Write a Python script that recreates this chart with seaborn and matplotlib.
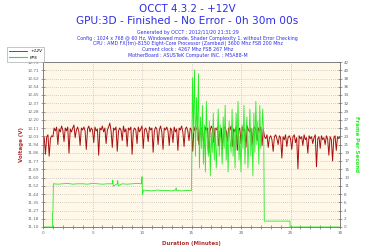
import numpy as np
import pandas as pd
import matplotlib
matplotlib.use("Agg")
import matplotlib.pyplot as plt
from matplotlib.lines import Line2D
import seaborn as sns

# ---------------- data ----------------
title_1 = "OCCT 4.3.2 - +12V"
title_2 = "GPU:3D - Finished - No Error - 0h 30m 00s"
info_lines = [
    "Generated by OCCT : 2012/11/20 21:31:29",
    "Config : 1024 x 768 @ 60 Hz, Windowed mode, Shader Complexity 1, without Error Checking",
    "CPU : AMD FX(tm)-8150 Eight-Core Processor (Zambezi) 3600 Mhz FSB 200 Mhz",
    "Current clock : 4267 Mhz FSB 267 Mhz",
    "MotherBoard : ASUSTeK Computer INC. : M5A88-M",
]

# voltage samples every 0.125 minute (0 .. 30)
volt_t = np.linspace(0, 30, 241)
volt_start = [12.04, 12.02, 11.85, 12.03, 12.05, 11.83, 12.01, 12.04, 12.03]
volt_mid = [
    12.12, 12.09, 12.13, 11.95, 12.11, 12.08, 12.14, 12.10, 11.98, 12.12,
    12.09, 12.13, 11.86, 12.11, 12.08, 12.12, 12.15, 12.02, 12.10, 12.13,
    12.08, 11.94, 12.12, 12.10, 12.13, 12.09, 11.90, 12.11, 12.14, 12.08,
    12.12, 12.10, 11.97, 12.13, 12.09, 12.11, 11.84, 12.12, 12.10, 12.14,
    12.08, 12.12, 11.96, 12.10, 12.13, 12.17, 12.09, 11.92, 12.12, 12.10,
    12.13, 11.88, 12.09, 12.12, 12.10, 11.99, 12.14, 12.08, 12.11, 11.93,
    12.12, 12.10, 12.13, 11.85, 12.09, 12.12, 12.10, 11.96, 12.13, 12.08,
    12.11, 12.14, 11.91, 12.10, 12.12, 12.08, 11.98, 12.13, 12.10, 12.12,
    11.87, 12.09, 12.13, 12.11, 11.95, 12.10, 12.14, 12.08, 11.90, 12.12,
    12.10, 12.13, 12.09, 11.94, 12.12, 12.10, 11.97, 12.13, 12.08, 12.11,
    11.89, 12.12, 12.10, 12.14, 12.08, 11.93, 12.11, 12.13, 12.09, 11.99,
    12.12, 12.10, 11.88, 12.13, 12.09, 12.11, 12.14, 11.95, 12.10, 12.12,
    12.08, 11.92, 12.13, 12.10, 12.12, 11.86, 12.09, 12.14, 12.11, 11.97,
    12.12, 12.10, 12.13, 11.94, 12.08, 12.12, 11.90, 12.11, 12.13, 12.09,
    11.98, 12.12, 12.10, 12.14, 11.93, 12.11, 12.08, 12.13, 11.89, 12.10,
    12.12, 11.96, 12.13, 12.09, 12.11, 11.92, 12.14, 12.10, 12.08, 12.12,
    11.95, 12.11, 12.13, 12.10, 11.99, 12.12, 12.09, 12.13, 11.94, 12.11,
]
volt_end = [
    12.03, 12.01, 12.05, 11.92, 12.02, 12.04, 12.00, 11.88, 12.03, 12.05,
    12.01, 11.95, 12.04, 12.02, 11.81, 12.03, 12.00, 12.05, 11.93, 12.02,
    12.04, 12.01, 11.90, 12.03, 12.05, 11.97, 12.02, 11.70, 12.04, 12.01,
    12.03, 11.94, 12.05, 12.00, 12.02, 11.86, 12.04, 12.01, 12.03, 11.96,
    12.02, 12.05, 11.72, 12.01, 12.03, 11.91, 12.04, 12.00, 12.02, 11.95,
    12.04, 12.01, 11.84, 12.03, 12.00, 11.78, 12.02, 12.04, 11.89, 12.03,
    12.01, 12.03,
]
volt_v = volt_start + volt_mid + volt_end

# FPS
fps_t_start = [0.0, 0.95, 0.95, 1.0, 1.05, 1.5, 2.0, 2.5, 3.0, 3.5, 4.0, 4.5,
               5.0, 5.5, 6.0, 6.5, 7.0, 7.05, 7.1, 7.5, 7.55, 7.6, 8.0, 8.5,
               9.0, 9.5, 9.95, 10.0, 10.05, 10.15, 10.5, 11.0, 11.5, 12.0,
               12.5, 13.0, 13.4, 13.45, 13.5, 14.0, 14.5, 15.0]
fps_v_start = [0.0, 0.0, 3.5, 3.5, 11.0, 10.9, 11.0, 11.1, 10.9, 11.0, 11.0,
               10.9, 11.1, 11.0, 10.9, 11.0, 11.0, 11.9, 10.4, 11.0, 11.8,
               10.5, 11.0, 10.9, 11.0, 11.1, 11.0, 12.8, 8.2, 9.4, 9.3, 9.2,
               9.4, 9.3, 9.3, 9.2, 9.4, 10.0, 9.3, 9.2, 9.3, 9.3]
fps_t_osc = np.round(np.linspace(15.1, 22.3, 73), 2)
fps_v_osc = [
    38, 24, 40, 18, 33, 22, 39, 15, 28, 20,
    31, 16, 26, 14, 32, 21, 18, 27, 13, 24,
    19, 29, 17, 25, 15, 22, 30, 18, 26, 21,
    16, 28, 20, 31, 17, 24, 14, 27, 22, 19,
    30, 18, 25, 15, 29, 21, 32, 17, 23, 14,
    26, 20, 31, 16, 24, 28, 15, 22, 30, 18,
    25, 13, 29, 19, 32, 21, 27, 16, 31, 20,
    24, 30, 22,
]
fps_t_end = [22.35, 24.95, 24.95, 30.0]
fps_v_end = [1.5, 1.5, 0.0, 0.0]
fps_t = list(fps_t_start) + list(fps_t_osc) + fps_t_end
fps_v = fps_v_start + fps_v_osc + fps_v_end

volt_ticks = ["11.10", "11.18", "11.27", "11.35", "11.44", "11.52", "11.60",
              "11.69", "11.77", "11.86", "11.94", "12.03", "12.11", "12.20",
              "12.28", "12.37", "12.45", "12.54", "12.62", "12.71", "12.79"]
fps_ticks = ["0", "2", "4", "6", "8", "11", "13", "15", "17", "19", "21",
             "23", "25", "27", "29", "32", "34", "36", "38", "40", "42"]
x_ticks = [0, 5, 10, 15, 20, 25, 30]

df_v = pd.DataFrame({"t": volt_t, "v": volt_v})
df_f = pd.DataFrame({"t": fps_t, "f": fps_v})

# ---------------- figure ----------------
RED = "#A80F0F"
GREEN = "#22EE22"
BLUE = "#2E2EE6"
AXRED = "#B03030"

fig = plt.figure(figsize=(3.75, 2.5), dpi=100)
fig.patch.set_facecolor("white")
ax = fig.add_axes([43 / 375, 23 / 250, 297 / 375, 165 / 250])
ax.set_facecolor("#FFF7E8")

sns.lineplot(data=df_v, x="t", y="v", ax=ax, color=RED, lw=0.7,
             estimator=None, sort=False, legend=False)
ax2 = ax.twinx()
sns.lineplot(data=df_f, x="t", y="f", ax=ax2, color=GREEN, lw=0.6,
             estimator=None, sort=False, legend=False)

ax.set_xlim(0, 30)
ax.set_ylim(11.10, 12.80)
ax2.set_ylim(0, 42)

ax.set_yticks(np.linspace(11.10, 12.80, 21))
ax.set_yticklabels(volt_ticks)
ax2.set_yticks(np.linspace(0, 42, 21))
ax2.set_yticklabels(fps_ticks)
ax.set_xticks(x_ticks)
ax.set_xticks(np.arange(0, 31, 1), minor=True)

for a in (ax, ax2):
    a.tick_params(axis="both", which="both", direction="inout", length=3,
                  width=0.4, color="#555555", labelsize=3, labelcolor="#666666",
                  pad=1.5)
    for s in a.spines.values():
        s.set_color("#777777")
        s.set_linewidth(0.5)
ax.tick_params(axis="x", which="minor", length=2.5)

ax.grid(True, axis="both", which="major", ls=(0, (1, 2)), color="#AAAAAA", lw=0.5)
ax.set_axisbelow(True)

ax.set_xlabel("Duration (Minutes)", fontsize=4, color=AXRED, fontweight="bold", labelpad=4)
ax.set_ylabel("Voltage (V)", fontsize=4, color=AXRED, fontweight="bold", labelpad=2)
ax2.set_ylabel("Frame Per Second", fontsize=4, color=GREEN, fontweight="bold",
               rotation=270, labelpad=7)

fig.text(0.5, 1 - 9 / 250, title_1, ha="center", va="center", fontsize=7.4, color=BLUE)
fig.text(0.5, 1 - 21 / 250, title_2, ha="center", va="center", fontsize=7.6, color=BLUE)
for i, line in enumerate(info_lines):
    fig.text(0.5, 1 - (32.5 + 5.7 * i) / 250, line, ha="center", va="center",
             fontsize=3.4, color=BLUE)

handles = [Line2D([], [], color=RED, lw=0.6), Line2D([], [], color=GREEN, lw=0.8)]
leg = fig.legend(handles, ["+12V", "FPS"], loc="upper left",
                 bbox_to_anchor=(5 / 375, 1 - 45 / 250),
                 prop={"style": "italic", "size": 3.2}, frameon=True, fancybox=False,
                 handlelength=4, borderpad=0.4, labelspacing=0.6, markerfirst=True)
leg.get_frame().set_edgecolor("#999999")
leg.get_frame().set_linewidth(0.5)

fig.savefig("out.png", dpi=100)
